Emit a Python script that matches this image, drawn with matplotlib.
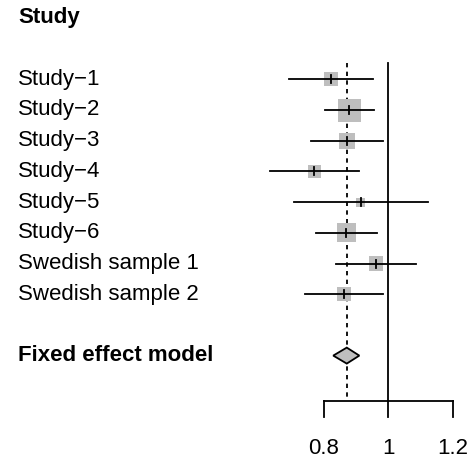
import numpy as np
import matplotlib.pyplot as plt
from matplotlib.patches import Rectangle, Polygon

plt.rcParams['font.family'] = ['Liberation Sans', 'DejaVu Sans']

studies = ['Study\u22121', 'Study\u22122', 'Study\u22123', 'Study\u22124',
           'Study\u22125', 'Study\u22126', 'Swedish sample 1', 'Swedish sample 2']
est = [0.823, 0.879, 0.872, 0.770, 0.915, 0.870, 0.962, 0.862]
lower = [0.693, 0.804, 0.760, 0.633, 0.707, 0.775, 0.838, 0.740]
upper = [0.952, 0.956, 0.983, 0.909, 1.122, 0.964, 1.086, 0.983]
weights = [9.8, 26.5, 13.3, 8.5, 4.1, 17.5, 10.2, 10.2]
fixed = (0.871, 0.829, 0.910)  # est, lower, upper
xticks = [0.8, 1, 1.2]

fig = plt.figure(figsize=(4.7, 4.62), dpi=100)
ax = fig.add_axes([0, 0, 1, 1])
# data <-> pixel mapping: 322 px per unit, x=1 at 388 px; rows 30.7 px apart
ax.set_xlim(1 - 388.3 / 322, 1 + 81.7 / 322)
ax.set_ylim(1 + (462 - 79.3) / 30.7, 1 - 79.3 / 30.7)
ax.axis('off')

px_x = 1 / 322
px_y = 1 / 30.7
rows = np.arange(1, len(studies) + 1)
lw = 1.3
xl = ax.get_xlim()[0] + 18 * px_x

# reference lines
ax.plot([1, 1], [0.47, 11.47], color='black', lw=lw)
ax.plot([fixed[0], fixed[0]], [0.47, 11.47], color='black', lw=lw,
        linestyle=(0, (2.4, 2.4)))

wmax = max(weights)
for r, e, lo, hi, w in zip(rows, est, lower, upper, weights):
    side = 23 * np.sqrt(w / wmax)
    ax.add_patch(Rectangle((e - side / 2 * px_x, r - side / 2 * px_y),
                           side * px_x, side * px_y, facecolor='#bebebe',
                           edgecolor='none', zorder=2))
    ax.plot([lo, hi], [r, r], color='black', lw=lw, zorder=3)
    ax.plot([e, e], [r - 4 * px_y, r + 4 * px_y], color='black', lw=lw, zorder=3)

# fixed effect diamond
yd = 10
ax.add_patch(Polygon([(fixed[1], yd), (fixed[0], yd - 8 * px_y),
                      (fixed[2], yd), (fixed[0], yd + 8 * px_y)],
                     closed=True, facecolor='#bebebe', edgecolor='black',
                     lw=lw, zorder=3))

# labels
ax.text(xl, -1, 'Study', fontsize=16, fontweight='bold', va='center', ha='left')
for r, s in zip(rows, studies):
    ax.text(xl, r, s, fontsize=16, va='center', ha='left')
ax.text(xl, yd, 'Fixed effect model', fontsize=16, fontweight='bold',
        va='center', ha='left')

# x axis
ax.plot([xticks[0], xticks[-1]], [11.47, 11.47], color='black', lw=lw)
for t in xticks:
    ax.plot([t, t], [11.47, 11.99], color='black', lw=lw)
    ax.text(t, 13.03, '%g' % t, fontsize=16, ha='center', va='center')

plt.savefig('out.png', dpi=100)
